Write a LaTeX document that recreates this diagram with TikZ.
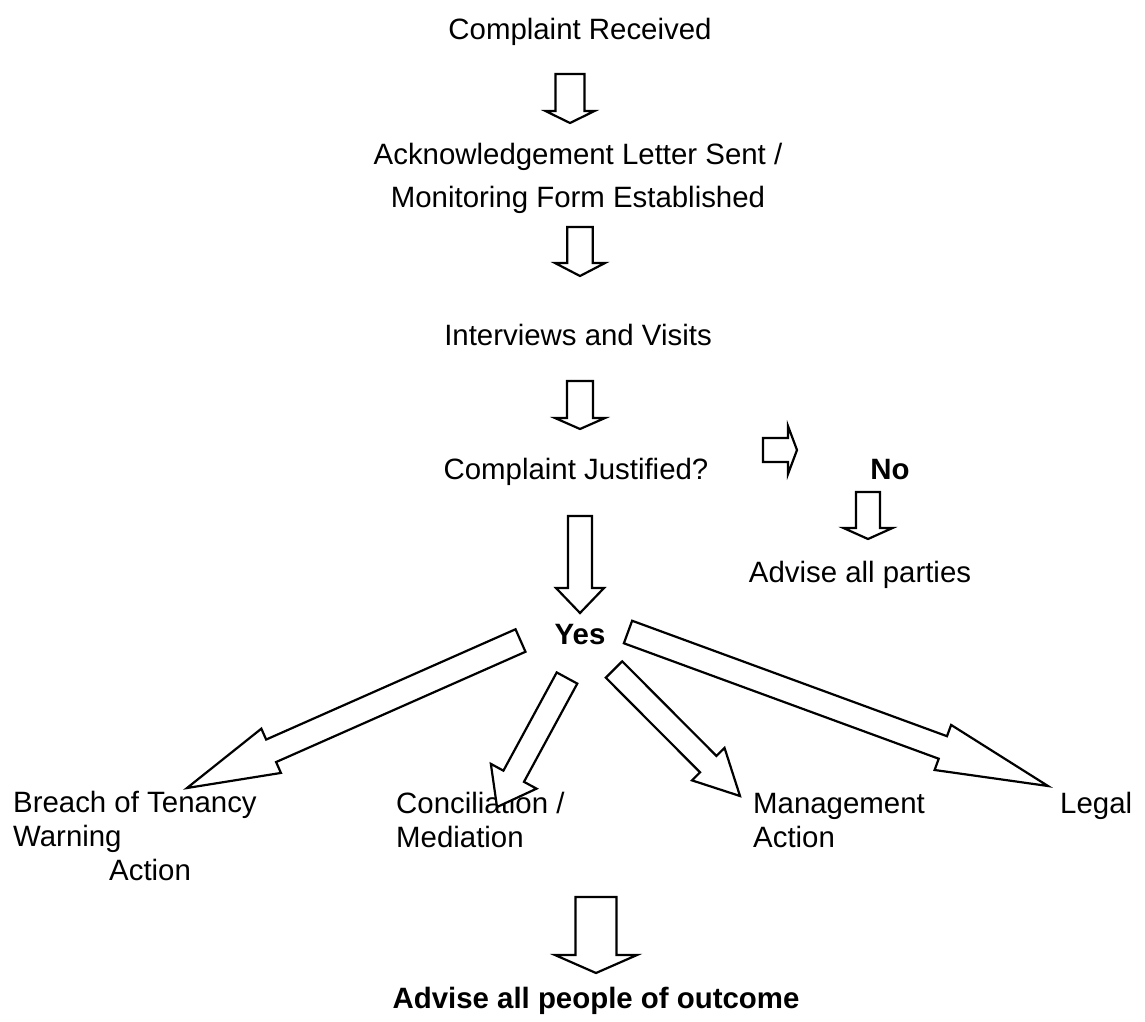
\documentclass[tikz,border=0pt]{standalone}
\usepackage{fontspec}
\setmainfont{Liberation Sans}
\usetikzlibrary{calc}

% block arrow: #1 tail, #2 tip, #3 shaft half width, #4 head half width, #5 head length
\newcommand{\blockarrow}[5]{%
	\coordinate (hb) at ($(#2)!#5pt!(#1)$);
	\draw[blockarr] ($(#1)!#3pt!90:(#2)$) -- ($(hb)!#3pt!90:(#2)$) -- ($(hb)!#4pt!90:(#2)$)
		-- (#2) -- ($(hb)!#4pt!-90:(#2)$) -- ($(hb)!#3pt!-90:(#2)$) -- ($(#1)!#3pt!-90:(#2)$) -- cycle;
}

\begin{document}
\begin{tikzpicture}[
			x=1pt, y=-1pt,
			lbl/.style = {inner sep=0pt, font=\fontsize{29.4pt}{34pt}\selectfont},
			bold/.style = {lbl, font=\fontsize{29.4pt}{34pt}\selectfont\bfseries},
			blockarr/.style = {draw, fill=white, line width=2.2pt, line join=miter},
			]
			\useasboundingbox (0,0) rectangle (1145,1021);

			% texts (multi-line nodes sit on their last line)
			\node[lbl, anchor=base] (recv) at (580,39) {Complaint Received};
			\node[lbl, anchor=base, align=center] (ack) at (578,207) {Acknowledgement Letter Sent /\\[9pt]Monitoring Form Established};
			\node[lbl, anchor=base] (visits) at (578,345) {Interviews and Visits};
			\node[lbl, anchor=base] (justified) at (576,479) {Complaint Justified?};
			\node[bold, anchor=base] (no) at (890,479) {No};
			\node[lbl, anchor=base] (parties) at (860,582) {Advise all parties};
			\node[bold, anchor=base] (yes) at (580,644) {Yes};
			\node[lbl, anchor=base west, align=left] (breach) at (13,880) {Breach of Tenancy\\Warning\\\hspace*{96pt}Action};
			\node[lbl, anchor=base west, align=left] (concil) at (396,847) {Conciliation /\\Mediation};
			\node[lbl, anchor=base west, align=left] (mgmt) at (753,847) {Management\\Action};
			\node[lbl, anchor=base west] (legal) at (1060,813) {Legal};
			\node[bold, anchor=base] (outcome) at (596,1008) {Advise all people of outcome};

			% arrow ends
			\coordinate (a1s) at (570,74);    \coordinate (a1e) at (570,123);
			\coordinate (a2s) at (580,227);   \coordinate (a2e) at (580,276);
			\coordinate (a3s) at (580,381);   \coordinate (a3e) at (580,429);
			\coordinate (nos) at (763,450);   \coordinate (noe) at (797,450);
			\coordinate (pas) at (868,492);   \coordinate (pae) at (868,539);
			\coordinate (yess) at (580,516);  \coordinate (yese) at (580,613);
			\coordinate (brs) at (520.5,640.5); \coordinate (bre) at (187,788);
			\coordinate (cos) at (567,678);   \coordinate (coe) at (497,807);
			\coordinate (mas) at (614,669.5); \coordinate (mae) at (740,796);
			\coordinate (les) at (628,632);   \coordinate (lee) at (1048,786);
			\coordinate (ous) at (596,897);   \coordinate (oue) at (596,973);

			\blockarrow{a1s}{a1e}{14.5}{24.5}{12}
			\blockarrow{a2s}{a2e}{12.7}{25}{13}
			\blockarrow{a3s}{a3e}{13}{25}{11}
			\blockarrow{nos}{noe}{12}{24}{9}
			\blockarrow{pas}{pae}{12}{24.5}{11}
			\blockarrow{yess}{yese}{12}{24}{25}
			\blockarrow{brs}{bre}{12.3}{24.2}{92}
			\blockarrow{cos}{coe}{11.7}{26}{35}
			\blockarrow{mas}{mae}{11.6}{23}{45}
			\blockarrow{les}{lee}{12}{24}{112}
			\blockarrow{ous}{oue}{20.5}{41}{18}
		\end{tikzpicture}
\end{document}
